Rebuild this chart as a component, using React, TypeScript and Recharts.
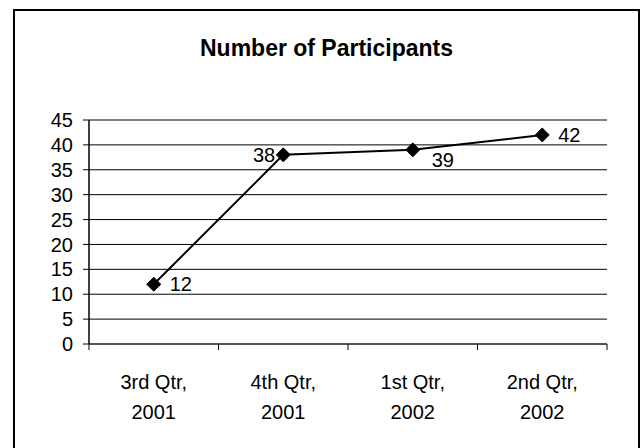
import React from 'react';
import { LineChart, Line, XAxis, YAxis, CartesianGrid, LabelList } from 'recharts';

const quarters = ['3rd Qtr, 2001', '4th Qtr, 2001', '1st Qtr, 2002', '2nd Qtr, 2002'];
const participants = [12, 38, 39, 42];
const yTicks = [0, 5, 10, 15, 20, 25, 30, 35, 40, 45];

// where each data label sits relative to its point (the original had them moved by hand)
const labelSides = ['right', 'left', 'below', 'right'];

const chartData = quarters.map((q, i) => ({ quarter: q, count: participants[i] }));

const FONT = '"Liberation Sans", Arial, sans-serif';
const TEXT_SIZE = 20;

function QuarterTick(props: any) {
  const { x, y, payload, index, width, visibleTicksCount } = props;
  const count = visibleTicksCount || quarters.length;
  const half = width ? width / count / 2 : 64.75;
  const parts = String(payload.value).split(', ');
  return (
    <g>
      <line x1={x - half} y1={y} x2={x - half} y2={y + 6} stroke="#000" strokeWidth={1} />
      {index === count - 1 && (
        <line x1={x + half} y1={y} x2={x + half} y2={y + 6} stroke="#000" strokeWidth={1} />
      )}
      <text x={x} y={y + 45} textAnchor="middle" fontSize={TEXT_SIZE} fontFamily={FONT} fill="#000">
        {parts[0] + ','}
      </text>
      <text x={x} y={y + 75} textAnchor="middle" fontSize={TEXT_SIZE} fontFamily={FONT} fill="#000">
        {parts[1]}
      </text>
    </g>
  );
}

function Diamond(props: any) {
  const { cx, cy } = props;
  if (cx == null || cy == null) return null;
  const r = 7;
  return (
    <polygon
      points={`${cx},${cy - r} ${cx + r},${cy} ${cx},${cy + r} ${cx - r},${cy}`}
      fill="#000"
      stroke="#000"
    />
  );
}

function PointLabel(props: any) {
  const { x, y, value, index } = props;
  const side = labelSides[index];
  let dx = 16;
  let dy = 0;
  let anchor: 'start' | 'end' = 'start';
  if (side === 'left') {
    dx = -8;
    anchor = 'end';
  } else if (side === 'below') {
    dx = 19;
    dy = 10;
  }
  return (
    <text
      x={x + dx}
      y={y + dy}
      dy="0.36em"
      textAnchor={anchor}
      fontSize={TEXT_SIZE}
      fontFamily={FONT}
      fill="#000"
    >
      {value}
    </text>
  );
}

export default function App() {
  return (
    <div
      style={{
        position: 'absolute',
        left: 0,
        top: 0,
        width: 640,
        height: 448,
        overflow: 'hidden',
        background: '#fff',
        fontFamily: FONT,
      }}
    >
      <div
        style={{
          position: 'absolute',
          left: 13,
          top: 9,
          width: 627,
          height: 470,
          border: '2px solid #000',
          boxSizing: 'border-box',
        }}
      />
      <div
        style={{
          position: 'absolute',
          left: 13,
          width: 627,
          top: 37,
          textAlign: 'center',
          fontSize: 23,
          lineHeight: '23px',
          fontWeight: 'bold',
          color: '#000',
        }}
      >
        Number of Participants
      </div>
      <div style={{ position: 'absolute', left: 0, top: 0 }}>
        <LineChart
          width={640}
          height={448}
          data={chartData}
          margin={{ top: 120, right: 33, left: 0, bottom: 14 }}
        >
          <CartesianGrid
            xAxisId="bottom"
            yAxisId="left"
            vertical={false}
            stroke="#000"
            strokeWidth={1}
          />
          <XAxis
            xAxisId="bottom"
            dataKey="quarter"
            scale="band"
            height={90}
            interval={0}
            tickLine={false}
            tickSize={0}
            tickMargin={0}
            axisLine={{ stroke: '#555', strokeWidth: 2 }}
            tick={<QuarterTick />}
          />
          <XAxis
            xAxisId="top"
            orientation="top"
            dataKey="quarter"
            scale="band"
            height={0}
            tick={false}
            tickLine={false}
            axisLine={{ stroke: '#888', strokeWidth: 2 }}
          />
          <YAxis
            yAxisId="left"
            width={89}
            domain={[0, 45]}
            ticks={yTicks}
            interval={0}
            tickSize={6}
            tickMargin={10}
            tick={{ fontSize: TEXT_SIZE, fill: '#000', fontFamily: FONT }}
            tickLine={{ stroke: '#000' }}
            axisLine={{ stroke: '#000', strokeWidth: 1.5 }}
          />
          <YAxis
            yAxisId="right"
            orientation="right"
            width={0}
            domain={[0, 45]}
            tick={false}
            tickLine={false}
            axisLine={{ stroke: '#888', strokeWidth: 2 }}
          />
          <Line
            xAxisId="bottom"
            yAxisId="left"
            type="linear"
            dataKey="count"
            stroke="#000"
            strokeWidth={2}
            dot={<Diamond />}
            activeDot={false}
            isAnimationActive={false}
          >
            <LabelList dataKey="count" content={<PointLabel />} />
          </Line>
        </LineChart>
      </div>
    </div>
  );
}
